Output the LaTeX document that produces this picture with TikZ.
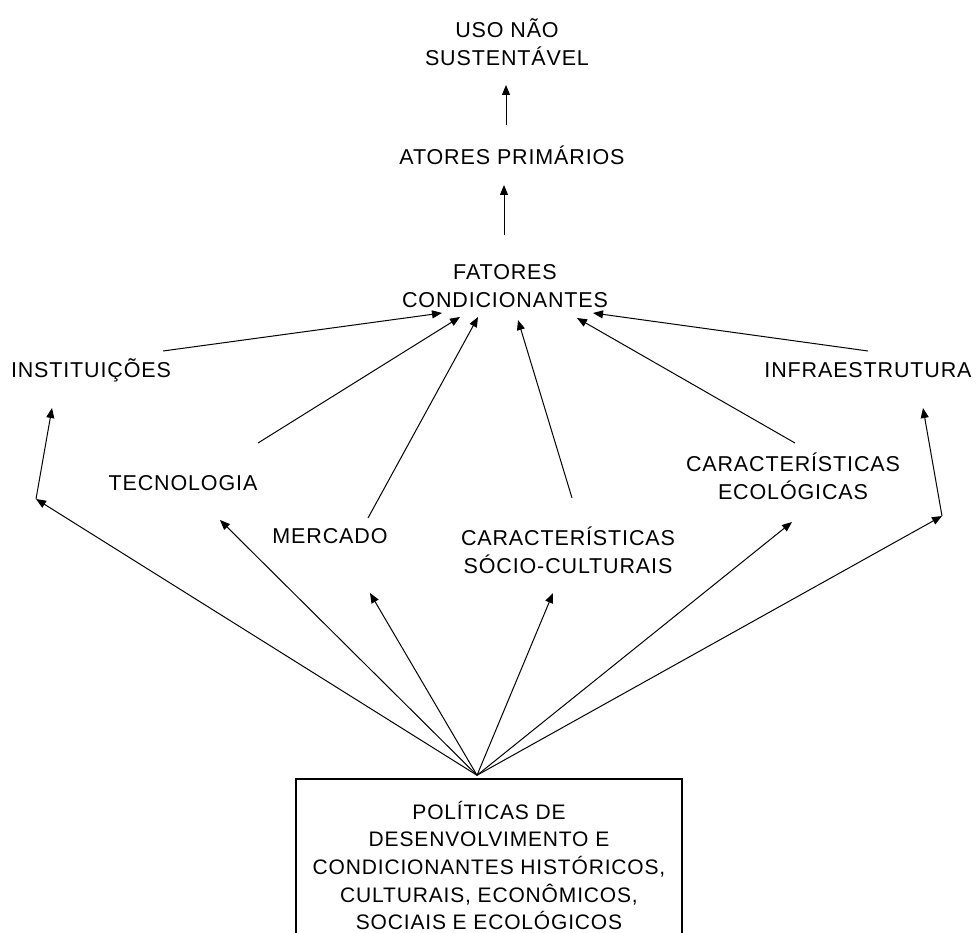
\documentclass[tikz,border=0pt]{standalone}
\usepackage{fontspec}
\setmainfont[LetterSpace=4]{Liberation Sans}
\usetikzlibrary{arrows.meta}
\begin{document}
\begin{tikzpicture}[x=1pt,y=-1pt,
    lbl/.style={align=center,font=\fontsize{21.5}{28}\selectfont,inner sep=0pt},
    arr/.style={-{Triangle[length=10pt,width=8pt]},line width=1pt}]
  \clip (0,0) rectangle (976,933);
  \fill[white] (0,0) rectangle (976,933);

  \node[lbl] (uso) at (507,42) {USO NÃO\\SUSTENTÁVEL};
  \node[lbl] (ator) at (512,155) {ATORES PRIMÁRIOS};
  \node[lbl] (fat) at (505,286) {FATORES\\CONDICIONANTES};
  \node[lbl] (inst) at (91,370) {INSTITUIÇÕES};
  \node[lbl] (infra) at (868,370) {INFRAESTRUTURA};
  \node[lbl] (tec) at (183,483) {TECNOLOGIA};
  \node[lbl] (eco) at (793,476) {CARACTERÍSTICAS\\ECOLÓGICAS};
  \node[lbl] (merc) at (330,536) {MERCADO};
  \node[lbl] (soc) at (568,550) {CARACTERÍSTICAS\\SÓCIO-CULTURAIS};
  \node[lbl,font=\fontsize{21}{27.7}\selectfont,draw,line width=1.5pt,minimum width=386pt,minimum height=173pt] (pol) at (489,865.5)
    {POLÍTICAS DE\\DESENVOLVIMENTO E\\CONDICIONANTES HISTÓRICOS,\\CULTURAIS, ECONÔMICOS,\\SOCIAIS E ECOLÓGICOS};

  \coordinate (cl) at (36,499);
  \coordinate (cr) at (942,516);
  \coordinate (apex) at ([shift={(-12,-3)}]pol.north);

  \draw[arr] ([shift={(-6,-30)}]ator.center) -- ([shift={(-1,43)}]uso.center);
  \draw[arr] ([shift={(-1,-51)}]fat.center) -- ([shift={(-8,30)}]ator.center);

  \draw[arr] ([shift={(72,-19)}]inst.center) -- ([shift={(-63,27)}]fat.center);
  \draw[arr] ([shift={(75,-40)}]tec.center) -- ([shift={(-45,31)}]fat.center);
  \draw[arr] ([shift={(38,-18)}]merc.center) -- ([shift={(-27,31)}]fat.center);
  \draw[arr] ([shift={(4,-52)}]soc.center) -- ([shift={(13,34)}]fat.center);
  \draw[arr] ([shift={(2,-33)}]eco.center) -- ([shift={(72,32)}]fat.center);
  \draw[arr] ([shift={(0,-19)}]infra.center) -- ([shift={(88,27)}]fat.center);

  \draw[arr] (apex) -- (cl);
  \draw[arr] (cl) -- ([shift={(-39,38)}]inst.center);
  \draw[arr] (apex) -- ([shift={(37,37)}]tec.center);
  \draw[arr] (apex) -- ([shift={(40,57)}]merc.center);
  \draw[arr] (apex) -- ([shift={(-15,43)}]soc.center);
  \draw[arr] (apex) -- ([shift={(-1,46)}]eco.center);
  \draw[arr] (apex) -- (cr);
  \draw[arr] (cr) -- ([shift={(55,38)}]infra.center);
\end{tikzpicture}
\end{document}
